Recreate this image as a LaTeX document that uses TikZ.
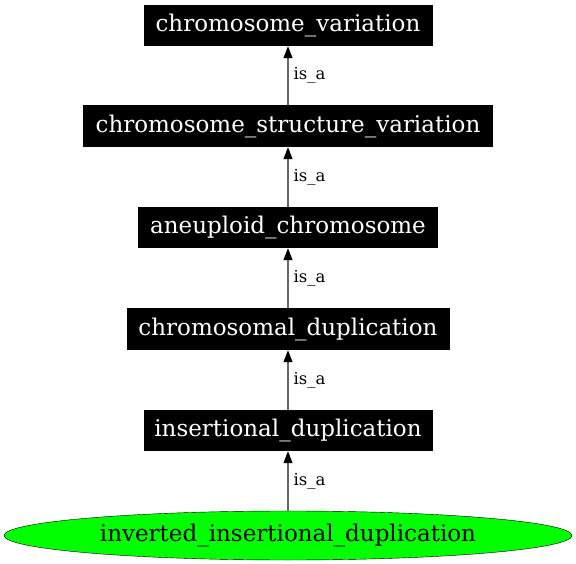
\documentclass[tikz,border=0pt]{standalone}
\usepackage{fontspec}
\setmainfont{DejaVu Serif}
\usetikzlibrary{arrows.meta,shapes.geometric}
\begin{document}
\begin{tikzpicture}[x=1pt,y=-1pt,
  term/.style={fill=black,text=white,inner sep=0pt,font=\fontsize{23}{26}\selectfont},
  leaf/.style={ellipse,draw=black,fill=green,inner sep=0pt,font=\fontsize{23}{26}\selectfont},
  isa/.style={draw=black!60,line width=1.2pt,-{Triangle[length=12pt,width=9pt,fill=black,color=black]}},
  lbl/.style={anchor=west,inner sep=0pt,font=\fontsize{16.5}{19}\selectfont}]
\useasboundingbox (0,0) rectangle (576,564);
\node[term,minimum width=289pt,minimum height=41pt] (cv) at (288,25.5) {chromosome\_variation};
\node[term,minimum width=410pt,minimum height=42pt] (csv) at (288,126) {chromosome\_structure\_variation};
\node[term,minimum width=300pt,minimum height=41pt] (ac) at (288,227.5) {aneuploid\_chromosome};
\node[term,minimum width=323pt,minimum height=42pt] (cd) at (288,329) {chromosomal\_duplication};
\node[term,minimum width=289pt,minimum height=41pt] (id) at (288,430.5) {insertional\_duplication};
\node[leaf,minimum width=568pt,minimum height=49pt] (iid) at (288,535.5) {inverted\_insertional\_duplication};
\draw[isa] (csv.north) -- (cv.south) node[lbl,midway,xshift=5pt] (l1) {is\_a};
\draw[isa] (ac.north) -- (csv.south) node[lbl,midway,xshift=5pt] (l2) {is\_a};
\draw[isa] (cd.north) -- (ac.south) node[lbl,midway,xshift=5pt] (l3) {is\_a};
\draw[isa] (id.north) -- (cd.south) node[lbl,midway,xshift=5pt] (l4) {is\_a};
\draw[isa] (iid.north) -- (id.south) node[lbl,midway,xshift=5pt] (l5) {is\_a};
\end{tikzpicture}
\end{document}
